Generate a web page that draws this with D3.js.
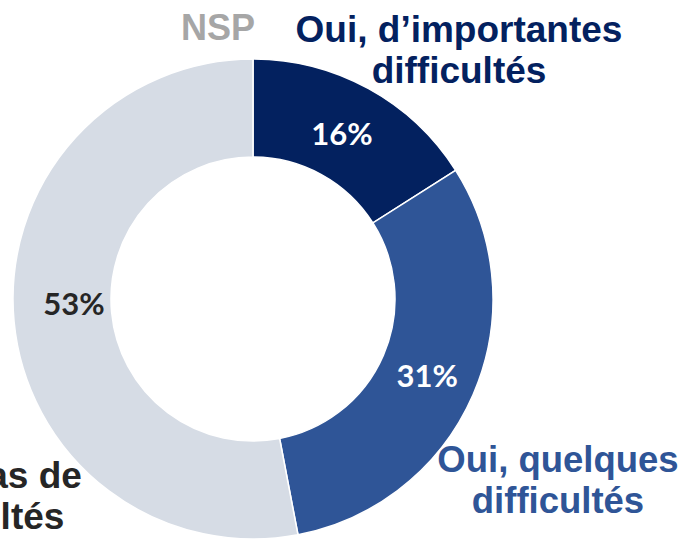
<!DOCTYPE html>
<html><head><meta charset="utf-8">
<script src="https://cdn.jsdelivr.net/npm/d3@7"></script>
<style>html,body{margin:0;padding:0;background:#fff;}svg{display:block;}</style>
</head><body><svg id="c" width="684" height="539"></svg>
<script>
const categories = ["Oui, d’importantes difficultés", "Oui, quelques difficultés", "Non, pas de difficultés", "NSP"];
const values = [16, 31, 53, 0];
const pctLabels = ["16%", "31%", "53%", ""];
const sliceColors = ["#03215f", "#2f5597", "#d6dce5", "#d6dce5"];
const pctColors = ["#ffffff", "#ffffff", "#262626", "#262626"];
const nameColors = ["#03215f", "#2f5597", "#262626", "#a6a6a6"];
const nameLines = [["Oui, d’importantes", "difficultés"], ["Oui, quelques", "difficultés"], ["Non, pas de", "difficultés"], ["NSP"]];
const nameSizes = [37, 36.5, 37, 36];

const W = 684, H = 539, cx = 253, cy = 299, R = 240, r = 142;
const svg = d3.select("#c");
const g = svg.append("g").attr("transform", `translate(${cx},${cy})`);
const data = categories.map((c, i) => ({name: c, value: values[i], i}));
const pie = d3.pie().sort(null).value(d => d.value);
const arcs = pie(data);
const arc = d3.arc().innerRadius(r).outerRadius(R);

g.selectAll("path").data(arcs.filter(a => a.data.value > 0)).join("path")
  .attr("d", arc).attr("fill", a => sliceColors[a.data.i])
  .attr("stroke", "#fff").attr("stroke-width", 1.5);

const pctAdj = [[-3, 1], [-1, 0], [11, -14], [0, 0]];
g.selectAll("text.pct").data(arcs.filter(a => a.data.value > 0)).join("text")
  .attr("class", "pct")
  .attr("x", a => arc.centroid(a)[0] + pctAdj[a.data.i][0])
  .attr("y", a => arc.centroid(a)[1] + pctAdj[a.data.i][1])
  .attr("text-anchor", "middle").attr("dominant-baseline", "central")
  .attr("font-family", "Lato, 'Open Sans', sans-serif").attr("font-weight", 700)
  .attr("font-size", 31).attr("fill", a => pctColors[a.data.i])
  .text(a => pctLabels[a.data.i]);

// outer category labels (anchor = centre x, first baseline)
const namePos = [[459, 42], [558, 472], [-23, 488], [218, 40]];
const lh = 41;
nameLines.forEach((lines, i) => {
  const t = svg.append("text").attr("text-anchor", "middle")
    .attr("font-family", "'Liberation Sans', Arial, sans-serif").attr("font-weight", 700)
    .attr("font-size", nameSizes[i]).attr("fill", nameColors[i]);
  lines.forEach((ln, k) => t.append("tspan").attr("x", namePos[i][0]).attr("y", namePos[i][1] + k * lh).text(ln));
});
</script></body></html>
